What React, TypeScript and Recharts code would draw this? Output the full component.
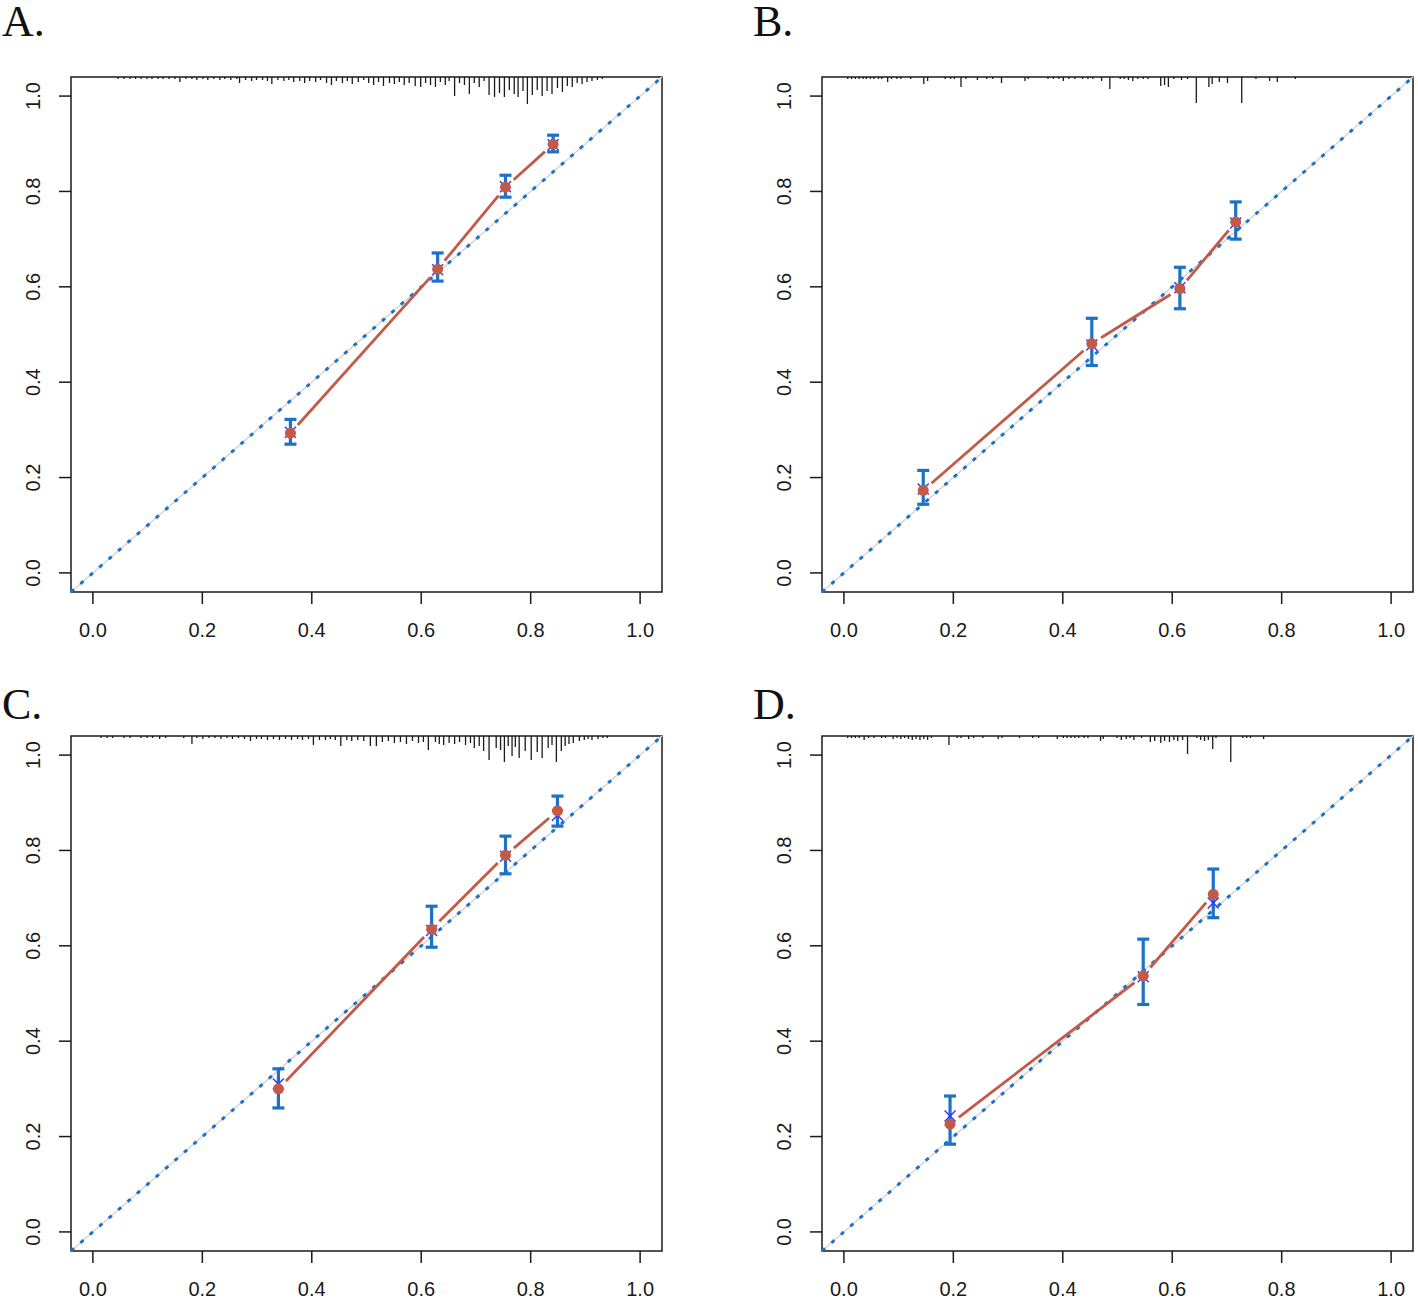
import React from 'react';
import {
  ComposedChart,
  Scatter,
  XAxis,
  YAxis,
  ReferenceLine,
  ReferenceArea,
  ErrorBar,
} from 'recharts';

// ---------- shared axis settings ----------
const TICKS = [0, 0.2, 0.4, 0.6, 0.8, 1.0];
const DOMAIN: [number, number] = [-0.04, 1.04];

// ---------- Panel A ----------
const A_pred = [0.361, 0.63, 0.754, 0.841];
const A_obs = [0.293, 0.637, 0.809, 0.899];
const A_lo = [0.27, 0.612, 0.788, 0.883];
const A_hi = [0.322, 0.671, 0.834, 0.918];
const A_corr = [0.295, 0.636, 0.81, 0.898];
const A_rug: [number, number][] = [
  [0.046, 2], [0.057, 2], [0.068, 2], [0.078, 2], [0.088, 2], [0.099, 2], [0.108, 2], [0.119, 2], [0.128, 2], [0.139, 2],
  [0.15, 2], [0.159, 5], [0.17, 2], [0.181, 2], [0.19, 3], [0.201, 2], [0.21, 3], [0.221, 2], [0.232, 3], [0.241, 2],
  [0.252, 3], [0.263, 2], [0.268, 6], [0.279, 3], [0.29, 4], [0.299, 3], [0.31, 3], [0.319, 4], [0.327, 7], [0.338, 3],
  [0.349, 4], [0.358, 3], [0.367, 5], [0.378, 4], [0.387, 6], [0.396, 4], [0.407, 5], [0.416, 3], [0.427, 6], [0.436, 8],
  [0.445, 4], [0.456, 6], [0.465, 4], [0.474, 7], [0.485, 5], [0.495, 3], [0.504, 6], [0.513, 8], [0.522, 5], [0.531, 9],
  [0.542, 6], [0.551, 7], [0.56, 5], [0.569, 8], [0.578, 6], [0.589, 9], [0.599, 10], [0.608, 6], [0.617, 8], [0.626, 10],
  [0.635, 5], [0.644, 8], [0.651, 4], [0.661, 19], [0.67, 6], [0.679, 8], [0.688, 17], [0.697, 6], [0.706, 10], [0.715, 4],
  [0.724, 18], [0.734, 20], [0.743, 16], [0.752, 20], [0.761, 13], [0.77, 17], [0.777, 20], [0.786, 14], [0.794, 27], [0.803, 18],
  [0.812, 13], [0.821, 19], [0.83, 14], [0.839, 17], [0.849, 11], [0.858, 15], [0.867, 9], [0.876, 10], [0.885, 6], [0.894, 7],
  [0.903, 5], [0.912, 4], [0.922, 3], [0.931, 2],
];

// ---------- Panel B ----------
const B_pred = [0.145, 0.453, 0.614, 0.716];
const B_obs = [0.173, 0.481, 0.596, 0.736];
const B_lo = [0.144, 0.435, 0.554, 0.7];
const B_hi = [0.215, 0.534, 0.641, 0.778];
const B_corr = [0.176, 0.478, 0.598, 0.734];
const B_rug: [number, number][] = [
  [0.007, 2], [0.014, 2], [0.021, 2], [0.028, 2], [0.035, 2], [0.041, 2], [0.048, 2], [0.055, 2], [0.063, 2], [0.069, 2],
  [0.08, 5], [0.087, 2], [0.097, 2], [0.104, 2], [0.122, 2], [0.146, 7], [0.153, 4], [0.185, 2], [0.195, 2], [0.202, 2],
  [0.214, 10], [0.223, 2], [0.244, 3], [0.261, 2], [0.272, 2], [0.288, 6], [0.331, 4], [0.337, 2], [0.373, 2], [0.383, 2],
  [0.393, 2], [0.401, 4], [0.411, 2], [0.422, 2], [0.436, 2], [0.446, 2], [0.455, 2], [0.471, 4], [0.486, 12], [0.505, 2],
  [0.512, 2], [0.52, 3], [0.528, 4], [0.537, 2], [0.547, 2], [0.556, 2], [0.579, 9], [0.586, 8], [0.593, 10], [0.603, 2],
  [0.617, 3], [0.628, 2], [0.644, 26], [0.667, 10], [0.673, 7], [0.686, 5], [0.701, 6], [0.727, 26], [0.753, 2], [0.778, 4],
  [0.792, 5], [0.825, 2],
];

// ---------- Panel C ----------
const C_pred = [0.339, 0.619, 0.754, 0.849];
const C_obs = [0.3, 0.635, 0.79, 0.883];
const C_lo = [0.26, 0.597, 0.751, 0.851];
const C_hi = [0.342, 0.683, 0.83, 0.914];
const C_corr = [0.31, 0.632, 0.788, 0.874];
const C_rug: [number, number][] = [
  [0.015, 2], [0.026, 2], [0.036, 2], [0.057, 2], [0.068, 2], [0.088, 2], [0.099, 2], [0.109, 2], [0.122, 3], [0.133, 2],
  [0.166, 2], [0.181, 8], [0.19, 2], [0.201, 3], [0.212, 2], [0.223, 2], [0.234, 3], [0.245, 2], [0.255, 3], [0.266, 2],
  [0.277, 3], [0.288, 5], [0.299, 3], [0.308, 3], [0.319, 4], [0.33, 3], [0.341, 4], [0.352, 3], [0.363, 4], [0.374, 3],
  [0.383, 4], [0.394, 3], [0.403, 9], [0.414, 4], [0.425, 4], [0.434, 3], [0.443, 4], [0.453, 10], [0.464, 4], [0.473, 5],
  [0.484, 4], [0.495, 5], [0.507, 10], [0.518, 10], [0.529, 6], [0.54, 5], [0.551, 7], [0.562, 6], [0.573, 8], [0.584, 5],
  [0.595, 7], [0.604, 6], [0.613, 14], [0.626, 6], [0.633, 8], [0.641, 9], [0.651, 7], [0.661, 8], [0.67, 6], [0.681, 9],
  [0.69, 7], [0.697, 12], [0.706, 10], [0.714, 15], [0.724, 24], [0.737, 12], [0.745, 14], [0.752, 26], [0.759, 10], [0.766, 20],
  [0.772, 11], [0.779, 22], [0.79, 15], [0.801, 24], [0.812, 16], [0.821, 22], [0.832, 12], [0.839, 9], [0.847, 26], [0.856, 15],
  [0.863, 10], [0.87, 8], [0.878, 7], [0.889, 5], [0.898, 4], [0.905, 3], [0.912, 4], [0.923, 3], [0.932, 2], [0.94, 2],
];

// ---------- Panel D ----------
const D_pred = [0.194, 0.547, 0.675];
const D_obs = [0.226, 0.537, 0.708];
const D_lo = [0.184, 0.477, 0.659];
const D_hi = [0.285, 0.614, 0.761];
const D_corr = [0.243, 0.535, 0.69];
const D_rug: [number, number][] = [
  [0.007, 2], [0.014, 2], [0.021, 2], [0.028, 2], [0.037, 4], [0.045, 2], [0.055, 2], [0.069, 2], [0.076, 2], [0.09, 3],
  [0.097, 2], [0.104, 3], [0.111, 2], [0.118, 3], [0.125, 4], [0.132, 3], [0.139, 4], [0.146, 3], [0.153, 4], [0.16, 2],
  [0.192, 9], [0.207, 2], [0.214, 2], [0.228, 3], [0.237, 2], [0.254, 2], [0.282, 3], [0.289, 2], [0.321, 2], [0.345, 2],
  [0.356, 2], [0.39, 3], [0.401, 2], [0.408, 2], [0.415, 2], [0.422, 2], [0.429, 2], [0.439, 2], [0.446, 2], [0.469, 5],
  [0.474, 3], [0.499, 2], [0.507, 4], [0.516, 3], [0.523, 2], [0.53, 4], [0.544, 2], [0.56, 6], [0.568, 5], [0.579, 7],
  [0.586, 5], [0.595, 6], [0.603, 4], [0.61, 5], [0.619, 4], [0.628, 18], [0.645, 2], [0.652, 4], [0.659, 5], [0.666, 4],
  [0.674, 13], [0.68, 2], [0.707, 26], [0.729, 2], [0.736, 2], [0.743, 2], [0.767, 3],
];

// ---------- style ----------
const BLUE = '#1B72C7';
const RED = '#C25A47';
const XBLUE = '#3434F5';
const INK = '#1a1a1a';
const RUG_UNIT = 1 / 477; // one rug count -> data units
const GAP_PX = 11;
const SX = 548; // approx px per data unit (x), used for gap around points
const SY = 477;

const YTick = (props: any) => {
  const { y, payload } = props;
  const X = 40;
  return (
    <text
      x={X}
      y={y}
      transform={`rotate(-90 ${X} ${y})`}
      textAnchor="middle"
      fontSize={20}
      fontFamily="Liberation Sans, Arial, sans-serif"
      fill={INK}
    >
      {Number(payload.value).toFixed(1)}
    </text>
  );
};

const RedDot = (p: any) => <circle cx={p.cx} cy={p.cy} r={5.5} fill={RED} />;
const BlueX = (p: any) => (
  <g stroke={XBLUE} strokeWidth={1.4}>
    <line x1={p.cx - 5.5} y1={p.cy - 5.5} x2={p.cx + 5.5} y2={p.cy + 5.5} />
    <line x1={p.cx - 5.5} y1={p.cy + 5.5} x2={p.cx + 5.5} y2={p.cy - 5.5} />
  </g>
);
const Nothing = () => <g />;

interface PanelProps {
  left: number;
  top: number;
  pred: number[];
  obs: number[];
  lo: number[];
  hi: number[];
  corr: number[];
  rug: [number, number][];
}

function Panel({ left, top, pred, obs, lo, hi, corr, rug }: PanelProps) {
  const pts = pred.map((x, i) => ({ x, y: obs[i], err: [obs[i] - lo[i], hi[i] - obs[i]] }));
  const corrPts = pred.map((x, i) => ({ x, y: corr[i] }));
  const segs = pred.slice(0, -1).map((x, i) => {
    const x1 = x, y1 = obs[i], x2 = pred[i + 1], y2 = obs[i + 1];
    const dx = x2 - x1, dy = y2 - y1;
    const L = Math.sqrt((dx * SX) ** 2 + (dy * SY) ** 2);
    const g = GAP_PX / L;
    return [
      { x: x1 + g * dx, y: y1 + g * dy },
      { x: x2 - g * dx, y: y2 - g * dy },
    ];
  });
  return (
    <div style={{ position: 'absolute', left, top }}>
      <ComposedChart width={709} height={650} margin={{ top: 77, right: 47, bottom: 0, left: 0 }}>
        <XAxis
          type="number"
          dataKey="x"
          domain={DOMAIN}
          ticks={TICKS}
          allowDataOverflow
          axisLine={false}
          height={58}
          tickSize={12}
          tickMargin={19}
          tickLine={{ stroke: INK, strokeWidth: 1.5 }}
          tick={{ fontSize: 20, fill: INK, fontFamily: 'Liberation Sans, Arial, sans-serif' }}
          tickFormatter={(v: number) => v.toFixed(1)}
          interval={0}
        />
        <YAxis
          type="number"
          dataKey="y"
          domain={DOMAIN}
          ticks={TICKS}
          allowDataOverflow
          axisLine={false}
          width={71}
          tickSize={12}
          tickLine={{ stroke: INK, strokeWidth: 1.5 }}
          tick={<YTick />}
          interval={0}
        />
        <ReferenceArea
          x1={-0.04}
          x2={1.04}
          y1={-0.04}
          y2={1.04}
          fill="none"
          fillOpacity={0}
          stroke={INK}
          strokeWidth={1.5}
          ifOverflow="visible"
        />
        {rug.map(([x, n], i) => (
          <ReferenceLine
            key={`r${i}`}
            segment={[
              { x, y: 1.04 },
              { x, y: 1.04 - n * RUG_UNIT },
            ]}
            stroke={INK}
            strokeWidth={1.3}
            ifOverflow="visible"
          />
        ))}
        <ReferenceLine
          segment={[
            { x: -0.04, y: -0.04 },
            { x: 1.04, y: 1.04 },
          ]}
          stroke="#d6d6d6"
          strokeWidth={1.5}
          ifOverflow="visible"
        />
        <ReferenceLine
          segment={[
            { x: -0.04, y: -0.04 },
            { x: 1.04, y: 1.04 },
          ]}
          stroke={BLUE}
          strokeWidth={3}
          strokeDasharray="4 8.5"
          ifOverflow="visible"
        />
        {segs.map((s, i) => (
          <ReferenceLine
            key={`s${i}`}
            segment={s}
            stroke={RED}
            strokeWidth={2.8}
            ifOverflow="visible"
          />
        ))}
        <Scatter data={pts} isAnimationActive={false} shape={Nothing}>
          <ErrorBar dataKey="err" direction="y" width={6} stroke={BLUE} strokeWidth={3.2} isAnimationActive={false} />
        </Scatter>
        <Scatter data={corrPts} isAnimationActive={false} shape={BlueX} />
        <Scatter data={pts} isAnimationActive={false} shape={RedDot} />
      </ComposedChart>
    </div>
  );
}

const TITLES = ['A.', 'B.', 'C.', 'D.'];

export default function App() {
  return (
    <div style={{ position: 'absolute', left: 0, top: 0, width: 1418, height: 1300, background: '#fff' }}>
      <Panel left={0} top={0} pred={A_pred} obs={A_obs} lo={A_lo} hi={A_hi} corr={A_corr} rug={A_rug} />
      <Panel left={751} top={0} pred={B_pred} obs={B_obs} lo={B_lo} hi={B_hi} corr={B_corr} rug={B_rug} />
      <Panel left={0} top={659} pred={C_pred} obs={C_obs} lo={C_lo} hi={C_hi} corr={C_corr} rug={C_rug} />
      <Panel left={751} top={659} pred={D_pred} obs={D_obs} lo={D_lo} hi={D_hi} corr={D_corr} rug={D_rug} />
      <svg width={1418} height={1300} style={{ position: 'absolute', left: 0, top: 0, pointerEvents: 'none' }}>
        {TITLES.map((t, i) => (
          <text
            key={t}
            x={i % 2 === 0 ? 2 : 753}
            y={i < 2 ? 36 : 719}
            fontSize={44}
            fontFamily="Liberation Serif, Times New Roman, serif"
            fill="#111"
          >
            {t}
          </text>
        ))}
      </svg>
    </div>
  );
}
